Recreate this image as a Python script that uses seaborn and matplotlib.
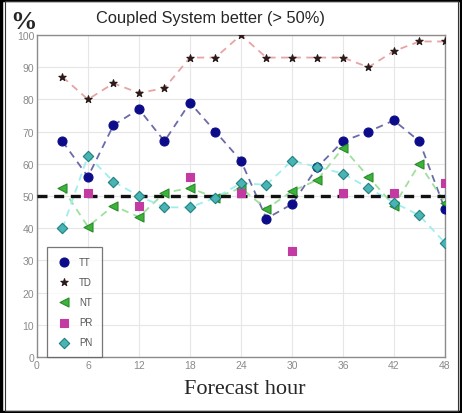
import matplotlib
matplotlib.use("Agg")
import matplotlib.pyplot as plt
import seaborn as sns
import pandas as pd
from matplotlib.patches import Rectangle

# values
hours = [3, 6, 9, 12, 15, 18, 21, 24, 27, 30, 33, 36, 39, 42, 45, 48]
tt = [67, 56, 72, 77, 67, 79, 70, 61, 43, 47.5, 59, 67, 70, 73.5, 67, 46]
td = [87, 80, 85, 82, 83.5, 93, 93, 100, 93, 93, 93, 93, 90, 95, 98, 98]
nt = [52.5, 40.5, 47, 43.5, 51, 52.5, 49.5, 52.5, 46, 51.5, 55, 65, 56, 47, 60, 48]
pn = [40, 62.5, 54.5, 50, 46.5, 46.5, 49.5, 54, 53.5, 61, 59, 57, 52.5, 48, 44, 35.5]
pr_hours = [6, 12, 18, 24, 30, 36, 42, 48]
pr = [51, 47, 56, 51, 33, 51, 51, 54]
xticks = [0, 6, 12, 18, 24, 30, 36, 42, 48]
yticks = [0, 10, 20, 30, 40, 50, 60, 70, 80, 90, 100]

sns.set_style("whitegrid", {"grid.color": "#e6e6e6", "axes.edgecolor": "#8c8c8c"})
plt.rcParams["font.family"] = ["Liberation Sans", "DejaVu Sans"]

fig = plt.figure(figsize=(4.62, 4.14), dpi=100)
ax = fig.add_axes([0.080, 0.135, 0.883, 0.778])

# name, x, y, line colour, marker, face, edge, size
series = [
    ("TT", hours, tt, "#6b6ba8", "o", "#0c0c8a", "#0c0c8a", 42),
    ("TD", hours, td, "#e8a4a4", "*", "#2a1a1a", "#2a1a1a", 30),
    ("NT", hours, nt, "#9ee09e", "<", "#3cb43c", "#2a8a2a", 42),
    ("PR", pr_hours, pr, None, "s", "#c23aa2", "#c23aa2", 28),
    ("PN", hours, pn, "#9eeeee", "D", "#4ab4b4", "#1f7f7f", 28),
]

for name, x, y, lc, mk, fc, ec, s in series:
    df = pd.DataFrame({"hour": x, "pct": y})
    if lc is not None:
        sns.lineplot(data=df, x="hour", y="pct", ax=ax, color=lc,
                     linestyle=(0, (4, 3)), linewidth=1.3, legend=False)
    sns.scatterplot(data=df, x="hour", y="pct", ax=ax, marker=mk, color=fc,
                    edgecolor=ec, linewidth=0.8, s=s, label=name, zorder=4)

ax.axhline(50, color="#111111", linestyle=(0, (3, 2)), linewidth=2.4, zorder=3)

ax.set_xlim(0, 48)
ax.set_ylim(0, 100)
ax.set_xticks(xticks)
ax.set_yticks(yticks)
ax.tick_params(axis="both", labelsize=7.5, colors="#8a8a8a", length=0, pad=2)
ax.set_xlabel("")
ax.set_ylabel("")
for sp in ax.spines.values():
    sp.set_linewidth(1.0)

leg = ax.legend(loc="lower left", bbox_to_anchor=(0.025, 0.0), borderaxespad=0,
                fontsize=7, frameon=True, fancybox=False, handletextpad=0.9,
                labelspacing=1.05, borderpad=1.0, handlelength=1.4)
leg.get_frame().set_edgecolor("#555555")
leg.get_frame().set_linewidth(0.9)
for t in leg.get_texts():
    t.set_color("#555555")

fig.text(0.455, 0.955, "Coupled System better (> 50%)", ha="center", va="center",
         fontsize=11.8, family="Liberation Sans")
fig.text(0.022, 0.945, "%", ha="left", va="center", fontsize=19,
         fontweight="bold", family="Liberation Serif")
fig.text(0.53, 0.058, "Forecast hour", ha="center", va="center",
         fontsize=16, family="Liberation Serif")

# frame around the whole picture
fig.patches.append(Rectangle((0.002, 0.002), 0.996, 0.996, transform=fig.transFigure,
                             fill=False, edgecolor="black", linewidth=2.5))
fig.patches.append(Rectangle((0.010, 0.006), 0.982, 0.988, transform=fig.transFigure,
                             fill=False, edgecolor="#333333", linewidth=0.8))

fig.savefig("out.png", dpi=100)
